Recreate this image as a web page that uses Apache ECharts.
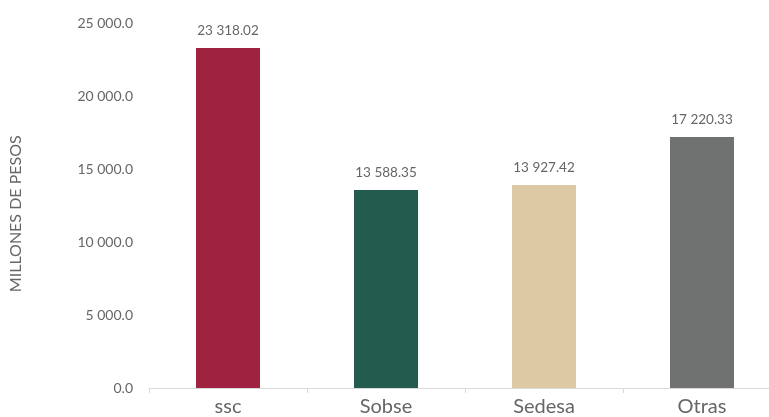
<!DOCTYPE html>
<html>
<head>
<meta charset="utf-8">
<script src="https://cdn.jsdelivr.net/npm/echarts@6/dist/echarts.min.js"></script>
<style>
html,body{margin:0;padding:0;background:#fff;overflow:hidden;}
#chart{width:790px;height:417px;}
</style>
</head>
<body>
<div id="chart"></div>
<script>
var categories = ['ssc', 'Sobse', 'Sedesa', 'Otras'];
var values = [23318.02, 13588.35, 13927.42, 17220.33];
var barColors = ['#9F2241', '#235B4E', '#DDC9A3', '#6F7271'];
var yTicks = [0, 5000, 10000, 15000, 20000, 25000];

function fmt(v, dec) {
  var s = v.toFixed(dec);
  var parts = s.split('.');
  parts[0] = parts[0].replace(/\B(?=(\d{3})+(?!\d))/g, ' ');
  return parts.join('.');
}

var chart = echarts.init(document.getElementById('chart'));
chart.setOption({
  animation: false,
  textStyle: { fontFamily: 'Lato' },
  grid: { left: 149, right: 9, top: 23.5, bottom: 29, containLabel: false },
  xAxis: {
    type: 'category',
    data: categories,
    axisLine: { show: true, lineStyle: { color: '#d9d9d9', width: 1 } },
    axisTick: { show: true, length: 5, lineStyle: { color: '#d9d9d9' } },
    axisLabel: { color: '#666', fontSize: 20, margin: 9, fontFamily: 'Lato' }
  },
  yAxis: {
    type: 'value',
    min: yTicks[0],
    max: yTicks[yTicks.length - 1],
    interval: 5000,
    name: 'MILLONES DE PESOS',
    nameLocation: 'middle',
    nameGap: 125,
    nameRotate: 90,
    nameTextStyle: { color: '#666', fontSize: 16, fontFamily: 'Lato', padding: [0, 16, 0, 0] },
    axisLine: { show: false },
    axisTick: { show: false },
    splitLine: { show: false },
    axisLabel: { color: '#666', fontSize: 14, margin: 16, fontFamily: 'Lato',
      formatter: function (v) { return fmt(v, 1); } }
  },
  series: [{
    type: 'bar',
    barWidth: 64,
    data: values.map(function (v, i) { return { value: v, itemStyle: { color: barColors[i] } }; }),
    label: {
      show: true,
      position: 'top',
      distance: 10,
      color: '#666',
      fontSize: 13.5,
      fontFamily: 'Lato',
      formatter: function (p) { return fmt(p.value, 2); }
    }
  }]
});
</script>
</body>
</html>
